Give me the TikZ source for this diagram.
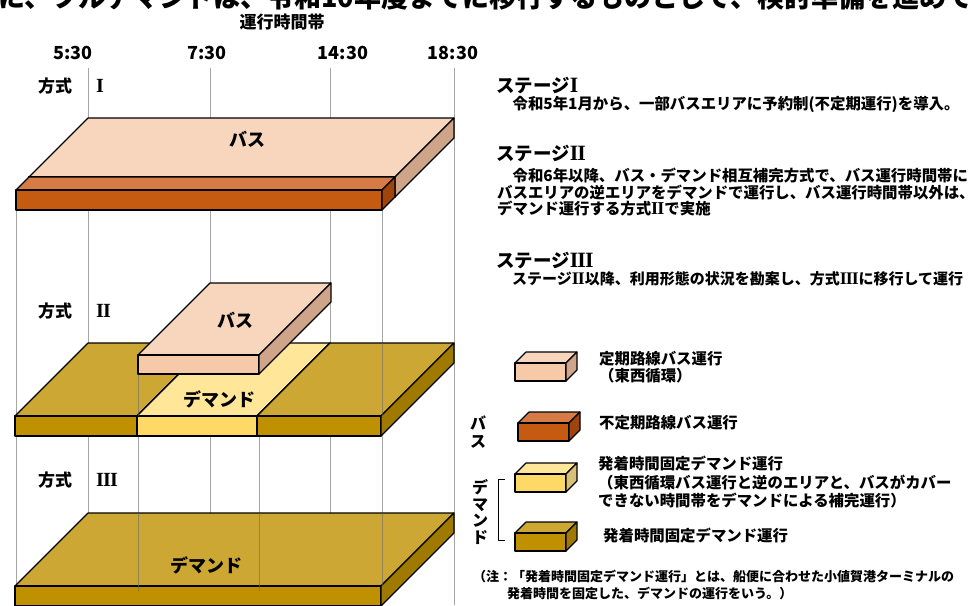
\documentclass[tikz,border=0pt]{standalone}
\usepackage{fontspec}
\setmainfont{Noto Sans CJK JP}
\newfontfamily\romfont[Scale=1.18]{Liberation Serif}
\newcommand{\rom}[1]{{\romfont\bfseries #1}}
\newcommand{\romII}{\rom{I\kern-0.9pt I}}
\newcommand{\romIII}{\rom{I\kern-0.9pt I\kern-0.9pt I}}
\definecolor{peachT}{HTML}{F8D6BE}
\definecolor{peachF}{HTML}{F6C9A9}
\definecolor{peachS}{HTML}{CFA58A}
\definecolor{orgT}{HTML}{D67B45}
\definecolor{orgF}{HTML}{C55A11}
\definecolor{orgS}{HTML}{9E440D}
\definecolor{goldT}{HTML}{CCA733}
\definecolor{goldF}{HTML}{BF9000}
\definecolor{goldS}{HTML}{A07A00}
\definecolor{yelT}{HTML}{FFE699}
\definecolor{yelF}{HTML}{FFD966}
\definecolor{yelS}{HTML}{D9C07A}
% slab: xl xr yb d t top front side
\newcommand{\drawslab}[8]{%
  \filldraw[edge, fill=#6] (#1,#3) -- (#2,#3) -- ({#2-#4},{#3+#4}) -- ({#1-#4},{#3+#4}) -- cycle;
  \filldraw[edge, fill=#7] ({#1-#4},{#3+#4}) -- ({#2-#4},{#3+#4}) -- ({#2-#4},{#3+#4+#5}) -- ({#1-#4},{#3+#4+#5}) -- cycle;
  \filldraw[edge, fill=#8] (#2,#3) -- (#2,{#3+#5}) -- ({#2-#4},{#3+#4+#5}) -- ({#2-#4},{#3+#4}) -- cycle;
}
% legend cube: x y (front top-left) top front side
\newcommand{\legcube}[5]{%
  \filldraw[edge, fill=#3] (#1,#2) -- ({#1+11},{#2-11}) -- ({#1+62},{#2-11}) -- ({#1+51},#2) -- cycle;
  \filldraw[edge, fill=#4] (#1,#2) -- ({#1+51},#2) -- ({#1+51},{#2+18}) -- (#1,{#2+18}) -- cycle;
  \filldraw[edge, fill=#5] ({#1+51},#2) -- ({#1+62},{#2-11}) -- ({#1+62},{#2+7}) -- ({#1+51},{#2+18}) -- cycle;
}
\begin{document}
\begin{tikzpicture}[x=1pt,y=-1pt, line join=round,
  edge/.style={draw=black, line width=1.1pt},
  grid/.style={draw=black!35, line width=0.7pt},
  gridover/.style={draw=black!60, line width=0.7pt, opacity=0.55},
  tight/.style={inner sep=0pt, text height=0.8em, text depth=0.1em},
  lbl/.style={tight, yshift=-3.5pt, font=\bfseries\fontsize{17}{20}\selectfont},
  slablbl/.style={tight, yshift=-3.5pt, font=\bfseries\fontsize{18}{20}\selectfont},
  timelbl/.style={tight, yshift=-3.5pt, font=\bfseries\fontsize{18}{20}\selectfont},
  head/.style={tight, yshift=-3.5pt, font=\bfseries\fontsize{18.5}{21}\selectfont, anchor=west},
  body/.style={tight, yshift=-2.5pt, font=\bfseries\fontsize{15.4}{17}\selectfont, anchor=west},
  legtxt/.style={tight, yshift=-2.5pt, font=\bfseries\fontsize{15.4}{17}\selectfont, anchor=west},
  note/.style={tight, yshift=-2pt, font=\bfseries\fontsize{13}{15}\selectfont, anchor=west},
]
\useasboundingbox (0,0) rectangle (974,605);
\clip (0,0) rectangle (974,605);

% clipped line at top
\node[anchor=base west, inner sep=0pt, font=\bfseries\fontsize{27}{27}\selectfont] (topline) at (-2,7) {に、フルデマンドは、令和10年度までに移行するものとして、検討準備を進めて};

% header and time labels
\node[lbl] (hdr) at (282,21) {運行時間帯};
\node[timelbl] (t1) at (73,52) {5:30};
\node[timelbl] (t2) at (207,52) {7:30};
\node[timelbl] (t3) at (343,52) {14:30};
\node[timelbl] (t4) at (453,52) {18:30};

% grid lines
\foreach \x in {88,210,330,454} \draw[grid] (\x,68) -- (\x,605);
\draw[grid] (16,210) -- (16,586);
\draw[grid] (382,210) -- (382,590);
\draw[grid] (138,373) -- (138,590);
\draw[grid] (259,373) -- (259,590);

% method labels
\node[lbl] (m1) at (55,85) {方式};
\node[lbl, anchor=west] (r1) at (96,85) {\rom{I}};
\node[lbl] (m2) at (55,310) {方式};
\node[lbl, anchor=west] (r2) at (96,310) {\romII};
\node[lbl] (m3) at (55,479) {方式};
\node[lbl, anchor=west] (r3) at (96,479) {\romIII};

% Slab I
\drawslab{88}{454}{118}{59}{20}{peachT}{peachF}{peachS}
\drawslab{29}{395}{177}{13}{20}{orgT}{orgF}{orgS}
\node[slablbl] (bus1) at (247,139) {バス};

% Slab II (demand)
\drawslab{88}{210}{343}{73}{20}{goldT}{goldF}{goldS}
\drawslab{210}{330}{343}{73}{20}{yelT}{yelF}{yelS}
\drawslab{330}{454}{343}{73}{20}{goldT}{goldF}{goldS}
\draw[gridover] (138,374) -- (138,416);
\draw[gridover] (382,343) -- (382,416);
\node[slablbl] (dem2) at (219,399) {デマンド};
% Slab II (bus)
\drawslab{210}{331}{283}{72}{19}{peachT}{peachF}{peachS}
\node[slablbl] (bus2) at (235,320) {バス};

% Slab III
\drawslab{88}{454}{513}{73}{20}{goldT}{goldF}{goldS}
\draw[gridover] (138,513) -- (138,591);
\draw[gridover] (259,513) -- (259,591);
\draw[gridover] (382,513) -- (382,586);
\node[slablbl] (dem3) at (206,565) {デマンド};

% right text
\node[head] (s1) at (496,85) {ステージ\rom{I}};
\node[body] (s1a) at (497,103) {　令和5年1月から、一部バスエリアに予約制(不定期運行)を導入。};
\node[head] (s2) at (496,153) {ステージ\romII};
\node[body] (s2a) at (497,175) {　令和6年以降、バス・デマンド相互補完方式で、バス運行時間帯に};
\node[body] (s2b) at (497,192) {バスエリアの逆エリアをデマンドで運行し、バス運行時間帯以外は、};
\node[body] (s2c) at (497,208) {デマンド運行する方式\romII で実施};
\node[head] (s3) at (496,260) {ステージ\romIII};
\node[body, font=\bfseries\fontsize{15}{17}\selectfont] (s3a) at (497,278) {　ステージ\romII 以降、利用形態の状況を勘案し、方式\romIII に移行して運行};

% legend
\legcube{515}{363}{peachT}{peachF}{peachS}
\node[legtxt] (l1a) at (599,358) {定期路線バス運行};
\node[legtxt] (l1b) at (599,375) {（東西循環）};
\legcube{518}{423}{orgT}{orgF}{orgS}
\node[legtxt] (l2) at (599,422) {不定期路線バス運行};
\legcube{515}{474}{yelT}{yelF}{yelS}
\node[legtxt] (l3a) at (598,463) {発着時間固定デマンド運行};
\node[legtxt] (l3b) at (598,482) {（東西循環バス運行と逆のエリアと、バスがカバー};
\node[legtxt] (l3c) at (598,500) {できない時間帯をデマンドによる補完運行）};
\legcube{515}{533}{goldT}{goldF}{goldS}
\node[legtxt] (l4) at (603,535) {発着時間固定デマンド運行};

\node[align=center, inner sep=0pt, yshift=-2pt, font=\bfseries\fontsize{16}{18}\selectfont] (vbus) at (478,430) {バ\\ス};
\node[align=center, inner sep=0pt, yshift=-2pt, font=\bfseries\fontsize{16}{16.5}\selectfont] (vdem) at (480,510) {デ\\マ\\ン\\ド};
\draw[line width=1pt] (505,479) -- (498,479) -- (498,540) -- (505,540);

\node[note] (n1) at (473,576) {（注：「発着時間固定デマンド運行」とは、船便に合わせた小値賀港ターミナルの};
\node[note] (n2) at (507,593) {発着時間を固定した、デマンドの運行をいう。）};
\end{tikzpicture}
\end{document}
